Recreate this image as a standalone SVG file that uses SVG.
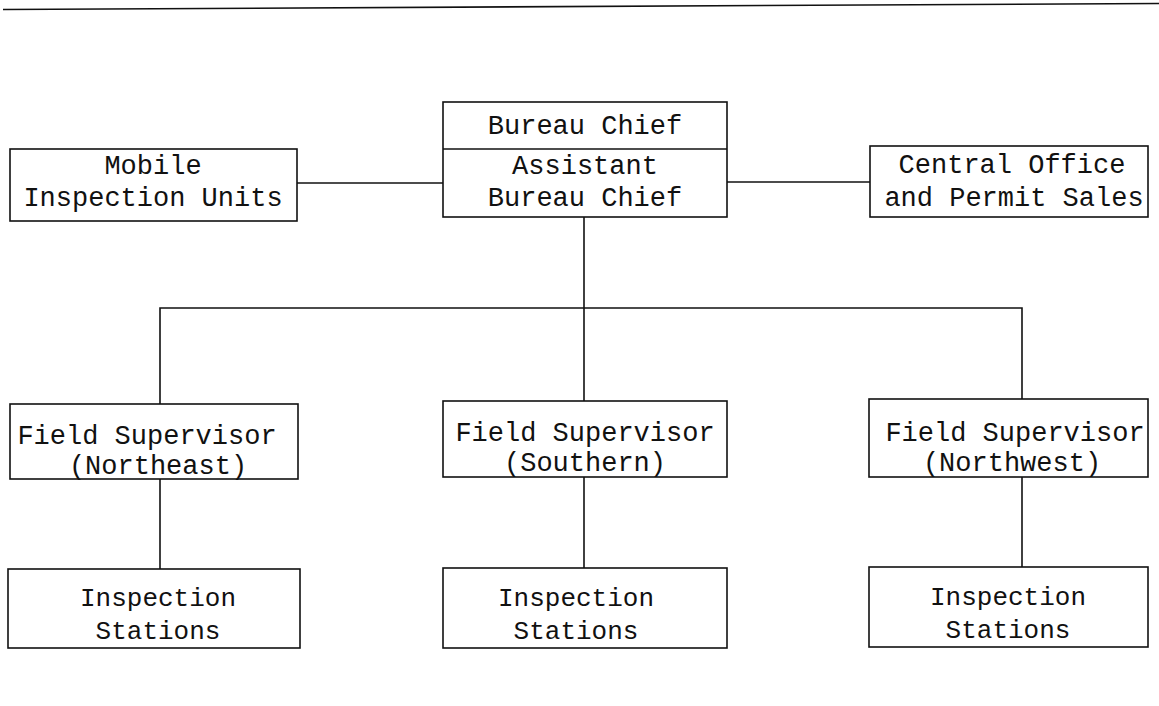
<svg xmlns="http://www.w3.org/2000/svg" width="1159" height="706" viewBox="0 0 1159 706">
<style>
.box{fill:#fff;stroke:#111;stroke-width:1.6}
.ln{stroke:#111;stroke-width:1.6;fill:none}
text{font-family:"Liberation Mono","Courier New",monospace;font-size:27px;fill:#111;text-anchor:middle}
text.is{font-size:26px}
</style>
<rect width="1159" height="706" fill="#fff"/>
<line class="ln" x1="3" y1="9.5" x2="1159" y2="3.5" stroke-width="2.2"/>
<g id="connectors">
<line class="ln" x1="297" y1="183" x2="443" y2="183"/>
<line class="ln" x1="727" y1="182" x2="870" y2="182"/>
<line class="ln" x1="584" y1="217" x2="584" y2="308"/>
<polyline class="ln" points="160,404 160,308 1022,308 1022,399"/>
<line class="ln" x1="584" y1="308" x2="584" y2="401"/>
<line class="ln" x1="160" y1="479" x2="160" y2="569"/>
<line class="ln" x1="584" y1="477" x2="584" y2="568"/>
<line class="ln" x1="1022" y1="477" x2="1022" y2="567"/>
</g>
<g id="mobile">
<rect class="box" x="10" y="149" width="287" height="72"/>
<text x="153" y="174">Mobile</text>
<text x="153" y="206">Inspection Units</text>
</g>
<g id="bureau-chief">
<rect class="box" x="443" y="102" width="284" height="115"/>
<line class="ln" x1="443" y1="149" x2="727" y2="149"/>
<text x="585" y="134">Bureau Chief</text>
<text x="585" y="174">Assistant</text>
<text x="585" y="206">Bureau Chief</text>
</g>
<g id="central-office">
<rect class="box" x="870" y="146" width="278" height="71"/>
<text x="1012" y="173">Central Office</text>
<text x="1014" y="206">and Permit Sales</text>
</g>
<g id="fs-northeast">
<rect class="box" x="10" y="404" width="288" height="75"/>
<text x="147" y="444">Field Supervisor</text>
<text x="158" y="474">(Northeast)</text>
</g>
<g id="fs-southern">
<rect class="box" x="443" y="401" width="284" height="76"/>
<text x="585" y="441">Field Supervisor</text>
<text x="585" y="471">(Southern)</text>
</g>
<g id="fs-northwest">
<rect class="box" x="869" y="399" width="279" height="78"/>
<text x="1015" y="441">Field Supervisor</text>
<text x="1012" y="471">(Northwest)</text>
</g>
<g id="is-northeast">
<rect class="box" x="8" y="569" width="292" height="79"/>
<text class="is" x="158" y="606">Inspection</text>
<text class="is" x="158" y="639">Stations</text>
</g>
<g id="is-southern">
<rect class="box" x="443" y="568" width="284" height="80"/>
<text class="is" x="576" y="606">Inspection</text>
<text class="is" x="576" y="639">Stations</text>
</g>
<g id="is-northwest">
<rect class="box" x="869" y="567" width="279" height="80"/>
<text class="is" x="1008" y="605">Inspection</text>
<text class="is" x="1008" y="638">Stations</text>
</g>
</svg>
